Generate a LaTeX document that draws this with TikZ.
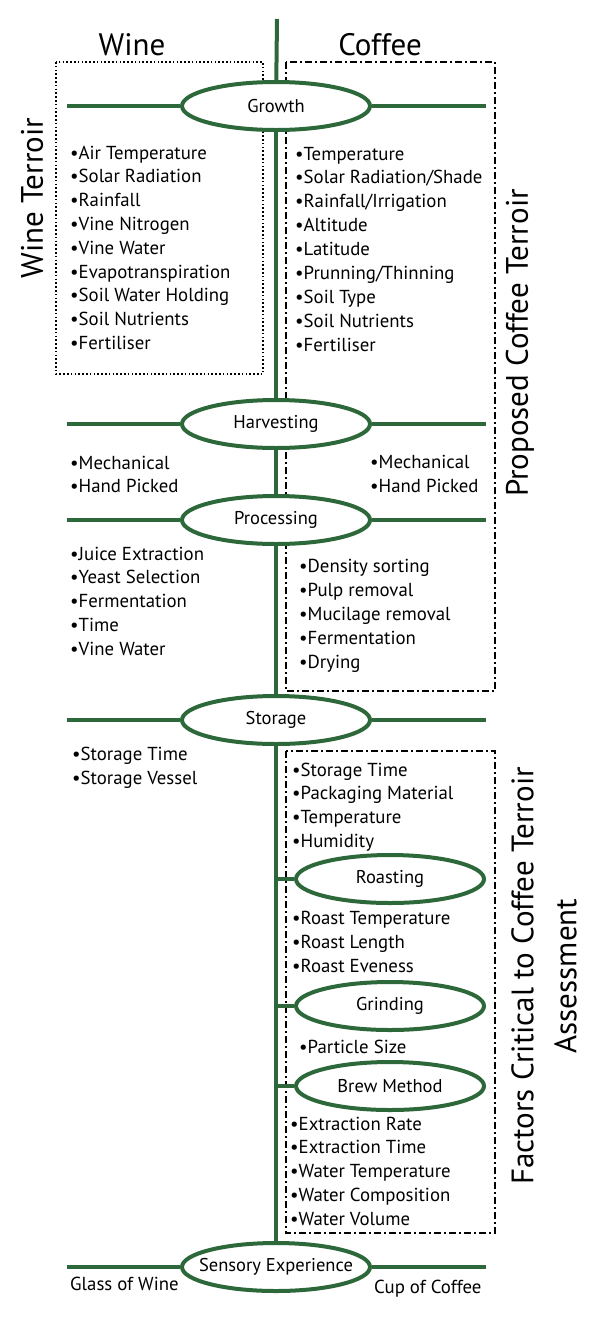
\documentclass[tikz,border=0pt]{standalone}
\usepackage{fontspec}
\setmainfont{PT Sans}
\usetikzlibrary{shapes.geometric}
\definecolor{leaf}{RGB}{44,104,58}
\tikzset{
  stage/.style={ellipse, draw=leaf, fill=white, line width=4pt, minimum width=188pt, minimum height=48pt, inner sep=0pt, font=\fontsize{18.5}{22}\selectfont},
  trunk/.style={leaf, line width=4pt},
  item/.style={anchor=base west, inner sep=0pt, font=\fontsize{18.8}{22}\selectfont},
  title/.style={inner sep=0pt, font=\fontsize{31}{36}\selectfont},
  side/.style={rotate=90, inner sep=0pt, align=center, font=\fontsize{31}{43}\selectfont},
  winebox/.style={line width=1.6pt, dash pattern=on 1.6pt off 2.2pt},
  coffeebox/.style={line width=2.3pt, dash pattern=on 7pt off 3pt on 2pt off 3pt},
}
% keeps a long label from widening its ellipse
\newcommand{\snug}[1]{\makebox[0pt]{#1}}
\begin{document}
\begin{tikzpicture}[x=1pt, y=-1pt]
		\useasboundingbox (0,0) rectangle (596,1320);

		% headings
		\node[title] (wine) at (132,45) {Wine};
		\node[title] (coffee) at (380,45) {Coffee};
		\node[side] (wineterroir) at (32,198) {Wine Terroir};
		\node[side] (proposed) at (520,343) {Proposed Coffee Terroir};
		\node[side] (critical) at (544,976) {Factors Critical to Coffee Terroir\\Assessment};

		% boxes
		\draw[winebox] (56,62) rectangle (263,374);
		\draw[coffeebox] (286,62) rectangle (495,691);
		\draw[coffeebox] (286,751) rectangle (495,1233);

		% main stages
		\coordinate (top) at (277,19);
		\node[stage] (growth) at (276,106) {Growth};
		\node[stage] (harvest) at (276,424) {Harvesting};
		\node[stage] (process) at (276,520) {Processing};
		\node[stage] (storage) at (276,720) {Storage};
		\node[stage] (sensory) at (276,1267) {\snug{Sensory Experience}};
		\draw[trunk] (top) -- (growth);
		\draw[trunk] (growth) -- (harvest);
		\draw[trunk] (harvest) -- (process);
		\draw[trunk] (process) -- (storage);
		\draw[trunk] (storage) -- (sensory);

		% side branches
		\coordinate (gL) at (67,106);  \coordinate (gR) at (486,106);
		\coordinate (hL) at (67,424);  \coordinate (hR) at (486,424);
		\coordinate (pL) at (67,520);  \coordinate (pR) at (486,520);
		\coordinate (sL) at (67,720);  \coordinate (sR) at (486,720);
		\coordinate (eL) at (67,1267); \coordinate (eR) at (486,1267);
		\draw[trunk] (gL) -- (growth) -- (gR);
		\draw[trunk] (hL) -- (harvest) -- (hR);
		\draw[trunk] (pL) -- (process) -- (pR);
		\draw[trunk] (sL) -- (storage) -- (sR);
		\draw[trunk] (eL) -- (sensory) -- (eR);

		% coffee only stages
		\node[stage] (roast) at (390,879) {Roasting};
		\node[stage] (grind) at (390,1006) {Grinding};
		\node[stage] (brew) at (390,1086) {Brew Method};
		\coordinate (rT) at (277,879);
		\coordinate (gT) at (277,1006);
		\coordinate (bT) at (277,1086);
		\draw[trunk] (rT) -- (roast);
		\draw[trunk] (gT) -- (grind);
		\draw[trunk] (bT) -- (brew);

		% factor lists
		\foreach \t [count=\i] in {Air Temperature, Solar Radiation, Rainfall, Vine Nitrogen, Vine Water, Evapotranspiration, Soil Water Holding, Soil Nutrients, Fertiliser}
			\node[item] (wg\i) at (70,135.2+23.8*\i) {•\t};
		\foreach \t [count=\i] in {Temperature, Solar Radiation/Shade, Rainfall/Irrigation, Altitude, Latitude, Prunning/Thinning, Soil Type, Soil Nutrients, Fertiliser}
			\node[item] (cg\i) at (295,136.1+23.9*\i) {•\t};
		\foreach \t [count=\i] in {Mechanical, Hand Picked}
			\node[item] (wh\i) at (70,445.5+23.5*\i) {•\t};
		\foreach \t [count=\i] in {Mechanical, Hand Picked}
			\node[item] (ch\i) at (370,445+23.5*\i) {•\t};
		\foreach \t [count=\i] in {Juice Extraction, Yeast Selection, Fermentation, Time, Vine Water}
			\node[item] (wp\i) at (70,536.2+23.8*\i) {•\t};
		\foreach \t [count=\i] in {Density sorting, Pulp removal, Mucilage removal, Fermentation, Drying}
			\node[item] (cp\i) at (299,549+23.9*\i) {•\t};
		\foreach \t [count=\i] in {Storage Time, Storage Vessel}
			\node[item] (ws\i) at (72,736+24*\i) {•\t};
		\foreach \t [count=\i] in {Storage Time, Packaging Material, Temperature, Humidity}
			\node[item] (cs\i) at (292,752.2+23.8*\i) {•\t};
		\foreach \t [count=\i] in {Roast Temperature, Roast Length, Roast Eveness}
			\node[item] (cr\i) at (292,900+24*\i) {•\t};
		\node[item] (cg) at (299,1053) {•Particle Size};
		\foreach \t [count=\i] in {Extraction Rate, Extraction Time, Water Temperature, Water Composition, Water Volume}
			\node[item] (cb\i) at (290,1106.2+23.8*\i) {•\t};

		% end products
		\node[item] (glass) at (70,1290) {Glass of Wine};
		\node[item] (cup) at (374,1293) {Cup of Coffee};
\end{tikzpicture}
\end{document}
